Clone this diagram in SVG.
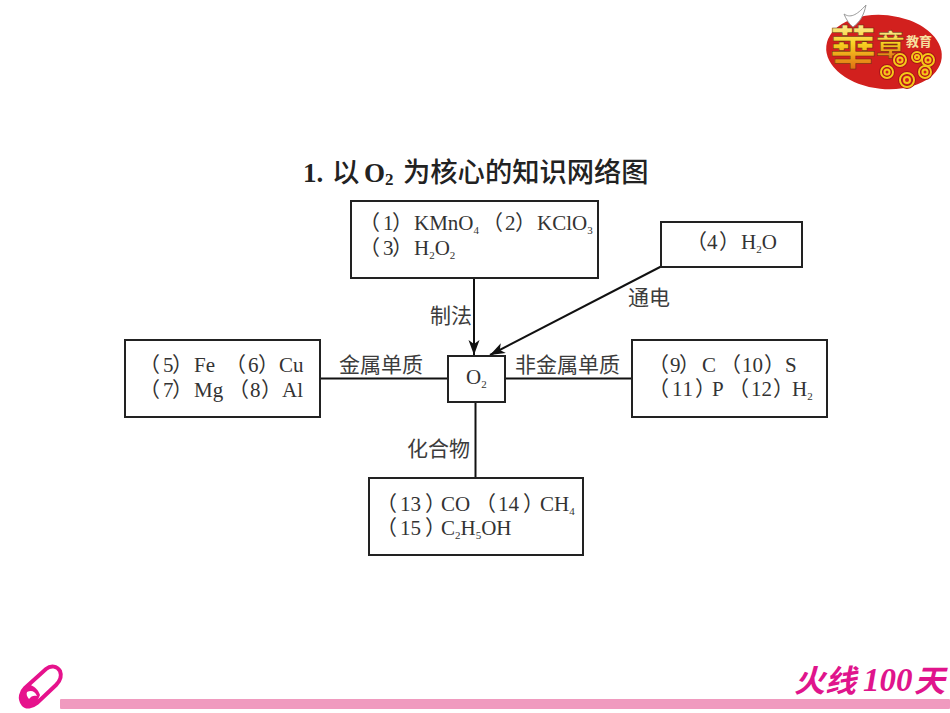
<svg xmlns="http://www.w3.org/2000/svg" width="950" height="713" viewBox="0 0 950 713">
<style>
.box{fill:#fff;stroke:#222;stroke-width:2}
.ln{fill:none;stroke:#111;stroke-width:2}
text{font-family:"Liberation Serif","Noto Sans CJK SC",serif;fill:#333}
.t{font-size:21px}
.l{font-size:21px;font-family:"Noto Sans CJK SC",sans-serif;fill:#3c3c3c}
.s{font-size:11px}
.ttl{font-size:27px;font-weight:bold;fill:#222}
.c{font-size:27.300px;font-weight:500;fill:#222;font-family:"Noto Sans CJK SC",sans-serif}
.foot{font-size:31px;font-style:italic;font-weight:bold;fill:#e0148c;font-family:"Noto Sans CJK SC",sans-serif}
.num{font-size:33px;font-style:italic;fill:#e0148c;font-family:"Liberation Serif",serif}
.lg{font-weight:700;font-family:"Noto Sans CJK TC",sans-serif;fill:url(#gold);stroke:#5a2a10;stroke-width:.5}
.sp1{fill:none;stroke:#a8141a;stroke-width:4}
.sp2{fill:none;stroke:#f5c818;stroke-width:2}
</style>
<defs>
<marker id="arrow" markerUnits="userSpaceOnUse" markerWidth="18" markerHeight="12" refX="15" refY="5.500" orient="auto"><path d="M0 0L15 5.500L0 11L4 5.500Z" fill="#111"/></marker>
<linearGradient id="gold" x1="0" y1="0" x2="0" y2="1"><stop offset="0" stop-color="#fffbe0"/><stop offset=".5" stop-color="#f8d020"/><stop offset="1" stop-color="#d85010"/></linearGradient>
</defs>
<rect width="950" height="713" fill="#fff"/>
<g id="logo">
<ellipse cx="884" cy="52" rx="58" ry="37" fill="#d2201e" transform="rotate(6 884 52)"/>
<path d="M844 14C850 18 856 16 866 5C864 15 860 22 853 27C849 24 846 19 844 14Z" fill="#fff" stroke="#999" stroke-width="1"/>
<text class="lg" x="830" y="64" font-size="46">華</text>
<text class="lg" x="876" y="56" font-size="29">章</text>
<text x="906" y="46" font-size="13" font-weight="700" style="fill:#f6e0a0;font-family:'Noto Sans CJK SC',sans-serif">教育</text>
<g>
<circle class="sp1" cx="900" cy="60" r="6"/><circle class="sp1" cx="887" cy="72" r="6"/><circle class="sp1" cx="907" cy="80" r="7"/><circle class="sp1" cx="917" cy="57" r="5"/><circle class="sp1" cx="928" cy="60" r="6"/><circle class="sp1" cx="925" cy="72" r="6"/>
<circle class="sp2" cx="900" cy="60" r="6"/><circle class="sp2" cx="900" cy="60" r="2.500"/>
<circle class="sp2" cx="887" cy="72" r="6"/><circle class="sp2" cx="887" cy="72" r="2.500"/>
<circle class="sp2" cx="907" cy="80" r="7"/><circle class="sp2" cx="907" cy="80" r="3"/>
<circle class="sp2" cx="917" cy="57" r="5"/><circle class="sp2" cx="917" cy="57" r="2"/>
<circle class="sp2" cx="928" cy="60" r="6"/><circle class="sp2" cx="928" cy="60" r="2.500"/>
<circle class="sp2" cx="925" cy="72" r="6"/><circle class="sp2" cx="925" cy="72" r="2.500"/>
</g>
</g>
<g id="title">
<text class="ttl" x="303" y="182">1.</text>
<text class="c" x="332" y="182">以</text>
<text class="ttl" x="364" y="182">O<tspan font-size="17" dy="3">2</tspan></text>
<text class="c" x="403" y="182">为核心的知识网络图</text>
</g>
<g id="connectors">
<line class="ln" x1="474" y1="278" x2="474" y2="355" marker-end="url(#arrow)"/>
<line class="ln" x1="662" y1="266" x2="490" y2="355" marker-end="url(#arrow)"/>
<line class="ln" x1="320" y1="378.500" x2="447" y2="378.500"/>
<line class="ln" x1="505" y1="378.500" x2="632" y2="378.500"/>
<line class="ln" x1="475.500" y1="402" x2="475.500" y2="478"/>
</g>
<g id="edge-labels">
<text class="l" x="430" y="323">制法</text>
<text class="l" x="628" y="305">通电</text>
<text class="l" x="339" y="372">金属单质</text>
<text class="l" x="515" y="372">非金属单质</text>
<text class="l" x="407" y="456">化合物</text>
</g>
<g id="node-sources">
<rect class="box" x="351" y="201" width="247" height="77"/>
<text class="t" x="359 383 392 414" y="230">（1）KMnO<tspan class="s" dy="4">4</tspan></text>
<text class="t" x="482 505 515 537" y="230">（2）KClO<tspan class="s" dy="4">3</tspan></text>
<text class="t" x="359 383 392 414" y="255">（3）H<tspan class="s" dy="4">2</tspan><tspan dy="-4">O</tspan><tspan class="s" dy="4">2</tspan></text>
</g>
<g id="node-water">
<rect class="box" x="661" y="222" width="141" height="45"/>
<text class="t" x="686 707 719 741" y="249">（4）H<tspan class="s" dy="4">2</tspan><tspan dy="-4">O</tspan></text>
</g>
<g id="node-metals">
<rect class="box" x="125" y="340" width="195" height="77"/>
<text class="t" x="139 163 172 194" y="372">（5）Fe</text>
<text class="t" x="225 248 258 279" y="372">（6）Cu</text>
<text class="t" x="139 163 172 194" y="397">（7）Mg</text>
<text class="t" x="228 250 261 282" y="397">（8）Al</text>
</g>
<g id="node-o2">
<rect class="box" x="448" y="356" width="57" height="46"/>
<text class="t" x="466" y="384">O<tspan class="s" dy="4">2</tspan></text>
</g>
<g id="node-nonmetals">
<rect class="box" x="632" y="340" width="195" height="77"/>
<text class="t" x="648 670 679 702" y="372">（9）C</text>
<text class="t" x="720 742 752.500 764 785" y="372">（10）S</text>
<text class="t" x="648 672 682.500 695 712" y="396">（11）P</text>
<text class="t" x="728 751 761.500 773 792" y="396">（12）H<tspan class="s" dy="4">2</tspan></text>
</g>
<g id="node-compounds">
<rect class="box" x="369" y="478" width="214" height="77"/>
<text class="t" x="376 400 410.500 425 441" y="511">（13）CO</text>
<text class="t" x="475 498 508.500 523 540" y="511">（14）CH<tspan class="s" dy="4">4</tspan></text>
<text class="t" x="376 400 410.500 425 441" y="535">（15）C<tspan class="s" dy="4">2</tspan><tspan dy="-4">H</tspan><tspan class="s" dy="4">5</tspan><tspan dy="-4">OH</tspan></text>
</g>
<g id="footer">
<rect x="60" y="699" width="890" height="10" rx="1" fill="#f09abf"/>
<path d="M23 704C19 698 21 692 25 688L46 669C51 665 57 666 60 671C62 676 60 681 56 685L37 703C32 707 26 708 23 704Z" fill="none" stroke="#e6128c" stroke-width="4"/>
<path d="M21 700C20 693 24 688 28 684C34 686 38 689 40 695L36 704C31 708 24 708 21 700Z" fill="#e6128c"/>
<path d="M27 692C31 690 35 691 37 696C34 695 31 696 29 699C27 697 26 694 27 692Z" fill="#fff"/>
<g id="footer-text">
<text class="foot" x="794" y="692">火线</text>
<text class="num" x="863" y="691" font-weight="700">100</text>
<text class="foot" x="914" y="692">天</text>
</g>
</g>
</svg>
